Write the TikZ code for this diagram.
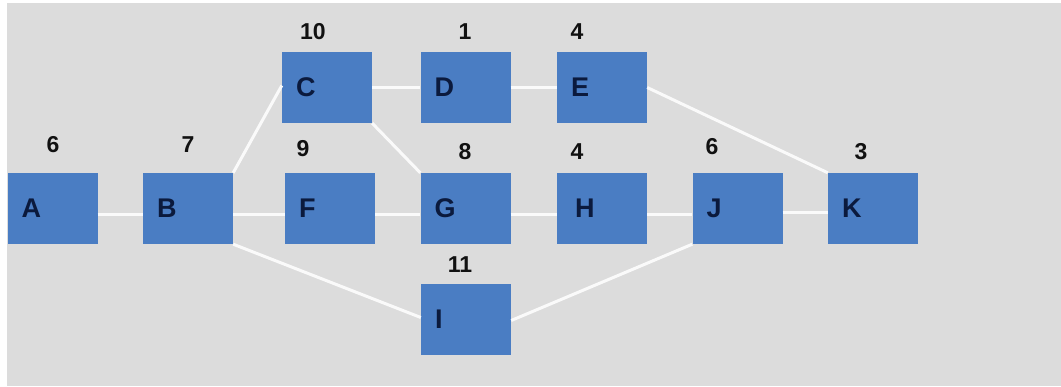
\documentclass[tikz,border=0pt]{standalone}
\usepackage{fontspec}
\setmainfont{Liberation Sans}
\definecolor{bggrey}{HTML}{DCDCDC}
\definecolor{boxblue}{HTML}{4A7DC3}
\definecolor{letterc}{HTML}{0B1A3D}
\definecolor{numc}{HTML}{111111}
\begin{document}
\begin{tikzpicture}[x=1pt,y=-1pt,
  box/.style={fill=boxblue, minimum width=90pt, minimum height=71pt, inner xsep=14pt, inner ysep=0pt,
    text width=62pt, align=left, font=\fontsize{27}{27}\selectfont\bfseries, text=letterc},
  num/.style={font=\fontsize{23}{23}\selectfont\bfseries, text=numc, inner sep=0pt},
  link/.style={draw=white!96!gray, line width=3pt}]
\fill[white] (0,0) rectangle (1061,386);
\fill[bggrey] (7,3) rectangle (1061,386);
\useasboundingbox (0,0) rectangle (1061,386);

\node[box] (A) at (52.5,208.5) {\raisebox{-2pt}{A}};
\node[box] (B) at (188,208.5) {\raisebox{-2pt}{B}};
\node[box] (C) at (327,87.5) {\raisebox{-2pt}{C}};
\node[box] (F) at (330,208.5) {\raisebox{-2pt}{F}};
\node[box] (D) at (465.5,87.5) {\raisebox{-2pt}{D}};
\node[box] (E) at (602,87.5) {\raisebox{-2pt}{E}};
\node[box] (G) at (465.5,208.5) {\raisebox{-2pt}{G}};
\node[box] (H) at (602,208.5) {\hspace*{4pt}\raisebox{-2pt}{H}};
\node[box] (J) at (737.5,208.5) {\raisebox{-2pt}{J}};
\node[box] (K) at (873,208.5) {\raisebox{-2pt}{K}};
\node[box] (I) at (466,319.5) {\raisebox{-2pt}{I}};

\node[num] (nA) at (53,145) {6};
\node[num] (nB) at (188,145) {7};
\node[num] (nC) at (313,32) {10};
\node[num] (nF) at (303,149) {9};
\node[num] (nD) at (465,32) {1};
\node[num] (nE) at (577,32) {4};
\node[num] (nG) at (465,152) {8};
\node[num] (nH) at (577,152) {4};
\node[num] (nJ) at (712,147) {6};
\node[num] (nK) at (861,152) {3};
\node[num] (nI) at (460,265) {11};

\draw[link] ([yshift=-6pt]A.east) -- ([yshift=-6pt]B.west);
\draw[link] ([yshift=-6pt]B.east) -- ([yshift=-6pt]F.west);
\draw[link] ([yshift=-6pt]F.east) -- ([yshift=-6pt]G.west);
\draw[link] ([yshift=-6pt]G.east) -- ([yshift=-6pt]H.west);
\draw[link] ([yshift=-6pt]H.east) -- ([yshift=-6pt]J.west);
\draw[link] ([yshift=-4pt]J.east) -- ([yshift=-4pt]K.west);
\draw[link] (C.east) -- (D.west);
\draw[link] (D.east) -- (E.west);
\draw[link] (B.north east) -- ([yshift=2pt]C.west);
\draw[link] (C.south east) -- (G.north west);
\draw[link] (B.south east) -- ([yshift=2pt]I.west);
\draw[link] ([yshift=-1pt]I.east) -- (J.south west);
\draw[link] (E.east) -- (K.north west);
\end{tikzpicture}
\end{document}
